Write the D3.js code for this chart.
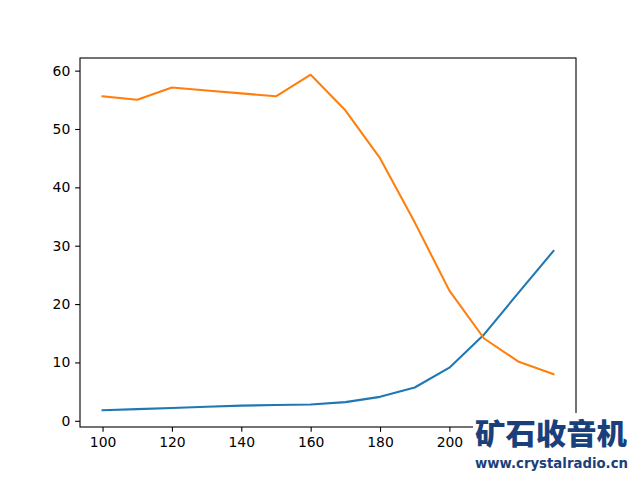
<!DOCTYPE html>
<html><head><meta charset="utf-8">
<script src="https://cdn.jsdelivr.net/npm/d3@7"></script>
<style>body{margin:0;background:#fff}svg{display:block}</style>
</head><body>
<script>
const xValues = [100,110,120,130,140,150,160,170,180,190,200,210,220,230];
const seriesBlue = [1.8,2.0,2.2,2.4,2.6,2.7,2.8,3.2,4.1,5.7,9.1,14.8,22.0,29.1];
const seriesOrange = [55.6,55.0,57.1,56.6,56.1,55.6,59.3,53.2,45.0,34.0,22.3,14.1,10.1,8.0];
const xTicks = [100,120,140,160,180,200];
const yTicks = [0,10,20,30,40,50,60];
const watermarkTitle = "矿石收音机";
const watermarkUrl = "www.crystalradio.cn";

const W=640,H=480;
const m={left:80,right:576,top:58,bottom:427};
const svg=d3.select("body").append("svg").attr("width",W).attr("height",H);
const x=d3.scaleLinear().domain([93.5,236.5]).range([m.left,m.right]);
const y=d3.scaleLinear().domain([-1.065,62.165]).range([m.bottom,m.top]);

const line=d3.line().x((d,i)=>x(xValues[i])).y(d=>y(d));
svg.append("path").datum(seriesBlue).attr("d",line).attr("fill","none").attr("stroke","#1f77b4").attr("stroke-width",2.08).attr("stroke-linejoin","round").attr("stroke-linecap","square");
svg.append("path").datum(seriesOrange).attr("d",line).attr("fill","none").attr("stroke","#ff7f0e").attr("stroke-width",2.08).attr("stroke-linejoin","round").attr("stroke-linecap","square");

const font="DejaVu Sans";
const xa=svg.append("g").attr("transform",`translate(0,${m.bottom})`).call(d3.axisBottom(x).tickValues(xTicks).tickSize(4.86).tickPadding(4.86).tickSizeOuter(0));
const ya=svg.append("g").attr("transform",`translate(${m.left},0)`).call(d3.axisLeft(y).tickValues(yTicks).tickSize(4.86).tickPadding(4.86).tickSizeOuter(0));
[xa,ya].forEach(a=>{a.select(".domain").remove();a.selectAll("line").attr("stroke","#000").attr("stroke-width",1.1);a.selectAll("text").attr("font-family",font).attr("font-size",13.9).attr("fill","#000");});
svg.append("rect").attr("x",m.left).attr("y",m.top).attr("width",m.right-m.left).attr("height",m.bottom-m.top).attr("fill","none").attr("stroke","#000").attr("stroke-width",1.1);

// watermark
const wm=svg.append("g");
wm.append("rect").attr("x",473).attr("y",413).attr("width",167).attr("height",67).attr("fill","#fff");
wm.append("text").attr("x",475).attr("y",445).attr("font-family","Noto Sans CJK SC").attr("font-weight","900").attr("font-size",29).attr("textLength",152).attr("lengthAdjust","spacingAndGlyphs").attr("fill","#1b3f7a").text(watermarkTitle);
wm.append("text").attr("x",475).attr("y",468).attr("font-family","DejaVu Sans").attr("font-weight","bold").attr("font-size",13.5).attr("textLength",153).attr("lengthAdjust","spacingAndGlyphs").attr("fill","#1b3f7a").text(watermarkUrl);
</script>
</body></html>
